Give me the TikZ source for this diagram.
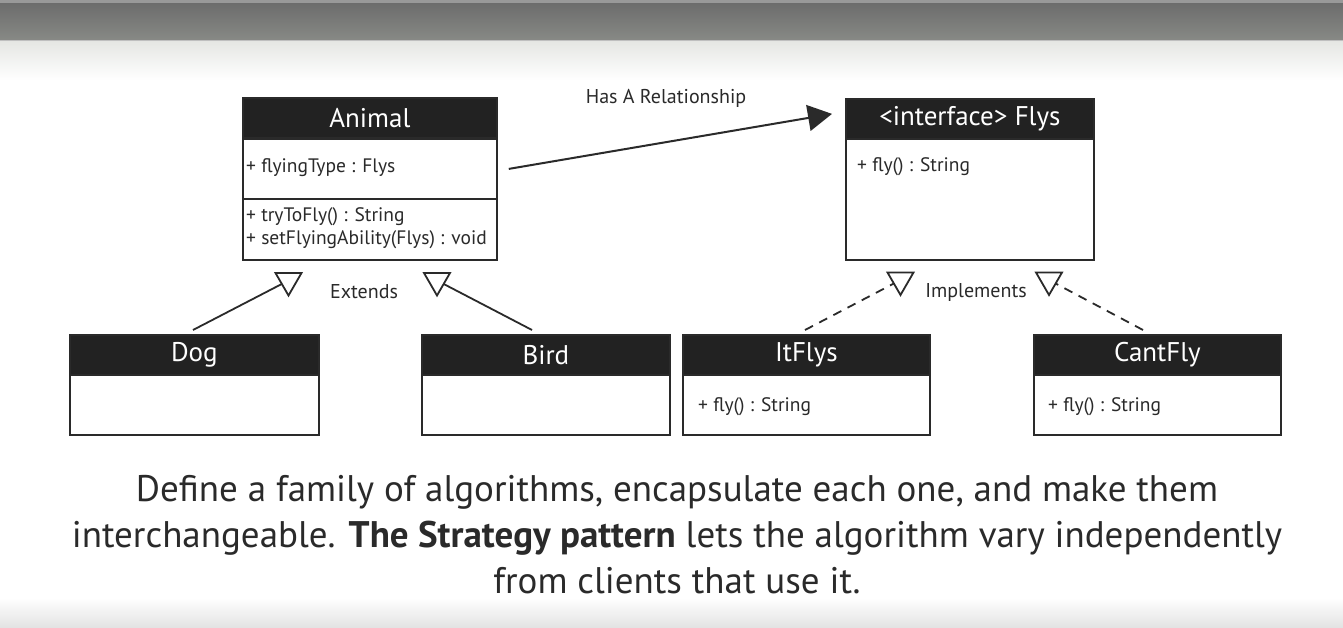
\documentclass[tikz,border=0pt]{standalone}
\usepackage{fontspec}
\setmainfont{PT Sans}
\usetikzlibrary{arrows.meta,shapes.geometric,calc}
\definecolor{hdrc}{HTML}{222222}
\definecolor{linec}{HTML}{2A2A2A}
\definecolor{textc}{HTML}{2A2A2A}
\definecolor{barTop}{HTML}{6A6A6A}
\definecolor{barBot}{HTML}{888A86}
\definecolor{fadeTop}{HTML}{E6E7E4}
\definecolor{fadeBot}{HTML}{E2E2E2}
\tikzset{
  hdr/.style={draw=linec, line width=1.8pt, fill=hdrc, text=white, anchor=north west,
    inner sep=0pt, minimum height=40pt, font=\fontsize{27}{27}\selectfont},
  bodybox/.style={draw=linec, line width=1.8pt, fill=white, anchor=north west, inner sep=0pt},
  member/.style={anchor=west, inner sep=0pt, text=textc, font=\fontsize{19.5}{19.5}\selectfont},
  lbl/.style={inner sep=0pt, text=textc, font=\fontsize{20}{20}\selectfont},
  tri/.style={regular polygon, regular polygon sides=3, shape border rotate=180,
    draw=linec, line width=1.8pt, fill=white, minimum size=30pt, inner sep=0pt},
  ext/.style={draw=linec, line width=1.8pt},
  impl/.style={draw=linec, line width=1.8pt, dash pattern=on 9pt off 7pt},
  hasa/.style={draw=linec, line width=2pt, -{Triangle[length=24pt,width=26pt]}}
}
\begin{document}
\begin{tikzpicture}[x=1pt,y=-1pt]
\useasboundingbox (0,0) rectangle (1343,628);
% background
\fill[white] (0,0) rectangle (1343,628);
\shade[top color=barTop, bottom color=barBot] (0,0) rectangle (1343,41);
\fill[black!40] (0,0) rectangle (1343,3);
\fill[black!25] (0,40) rectangle (1343,42);
\shade[top color=fadeTop, bottom color=white] (0,42) rectangle (1343,80);
\shade[top color=white, bottom color=fadeBot] (0,598) rectangle (1343,628);

% Animal
\node[hdr, minimum width=254pt] (animalH) at (242,97) {Animal};
\node[bodybox, minimum width=254pt, minimum height=60pt] (animalA) at (242,138) {};
\node[bodybox, minimum width=254pt, minimum height=61pt] (animalM) at (242,198) {};
\node[member] (animalA1) at ($(animalA.west)+(4,-1)$) {+ flyingType : Flys};
\node[member] (animalM1) at ($(animalM.west)+(4,-13)$) {+ tryToFly() : String};
\node[member] (animalM2) at ($(animalM.west)+(4,10)$) {+ setFlyingAbility(Flys) : void};

% Flys interface
\node[hdr, minimum width=248pt] (flysH) at (845,98) {<interface> Flys};
\node[bodybox, minimum width=248pt, minimum height=121pt] (flysB) at (845,138) {};
\node[member] (flysB1) at ($(flysB.north west)+(12,29)$) {+ fly() : String};

% Subclasses
\node[hdr, minimum width=249pt] (dogH) at (69,334) {Dog};
\node[bodybox, minimum width=249pt, minimum height=60pt] (dogB) at (69,374) {};
\node[hdr, minimum width=248pt] (birdH) at (421,334) {Bird};
\node[bodybox, minimum width=248pt, minimum height=60pt] (birdB) at (421,374) {};

% Implementations
\node[hdr, minimum width=247pt] (itH) at (682,334) {ItFlys};
\node[bodybox, minimum width=247pt, minimum height=60pt] (itB) at (682,374) {};
\node[member] (itB1) at ($(itB.west)+(16,2)$) {+ fly() : String};
\node[hdr, minimum width=247pt] (cantH) at (1033,334) {CantFly};
\node[bodybox, minimum width=247pt, minimum height=60pt] (cantB) at (1033,374) {};
\node[member] (cantB1) at ($(cantB.west)+(15,2)$) {+ fly() : String};

% triangle heads (placed, drawn after lines)
\coordinate (tDogC) at (288.5,280.5);
\coordinate (tBirdC) at (437,280.5);
\coordinate (tItC) at (900.5,280);
\coordinate (tCantC) at (1049,280);

% connectors
\draw[ext] ($(dogH.north west)+(124,-4)$) -- (tDogC);
\draw[ext] ($(birdH.north west)+(111,-4)$) -- (tBirdC);
\draw[impl] ($(itH.north west)+(123,-4)$) -- (tItC);
\draw[impl] ($(cantH.north west)+(110,-4)$) -- (tCantC);
\node[tri] (tDog) at (tDogC) {};
\node[tri] (tBird) at (tBirdC) {};
\node[tri] (tIt) at (tItC) {};
\node[tri] (tCant) at (tCantC) {};

\coordinate (hasEnd) at ($(flysH.west)+(-13,-5)$);
\draw[hasa] ($(animalA.east)+(11,0)$) -- (hasEnd);

% labels
\node[lbl] (hasLbl) at (666,98) {Has A Relationship};
\node[lbl] (extLbl) at (364,292) {Extends};
\node[lbl] (implLbl) at (976,292) {Implements};

% caption
\node[text=textc, align=center, inner sep=0pt, font=\fontsize{37}{46}\selectfont] (caption) at (677,535)
 {Define a family of algorithms, encapsulate each one, and make them\\
  interchangeable. \textbf{The Strategy pattern} lets the algorithm vary independently\\
  from clients that use it.};
\end{tikzpicture}
\end{document}
